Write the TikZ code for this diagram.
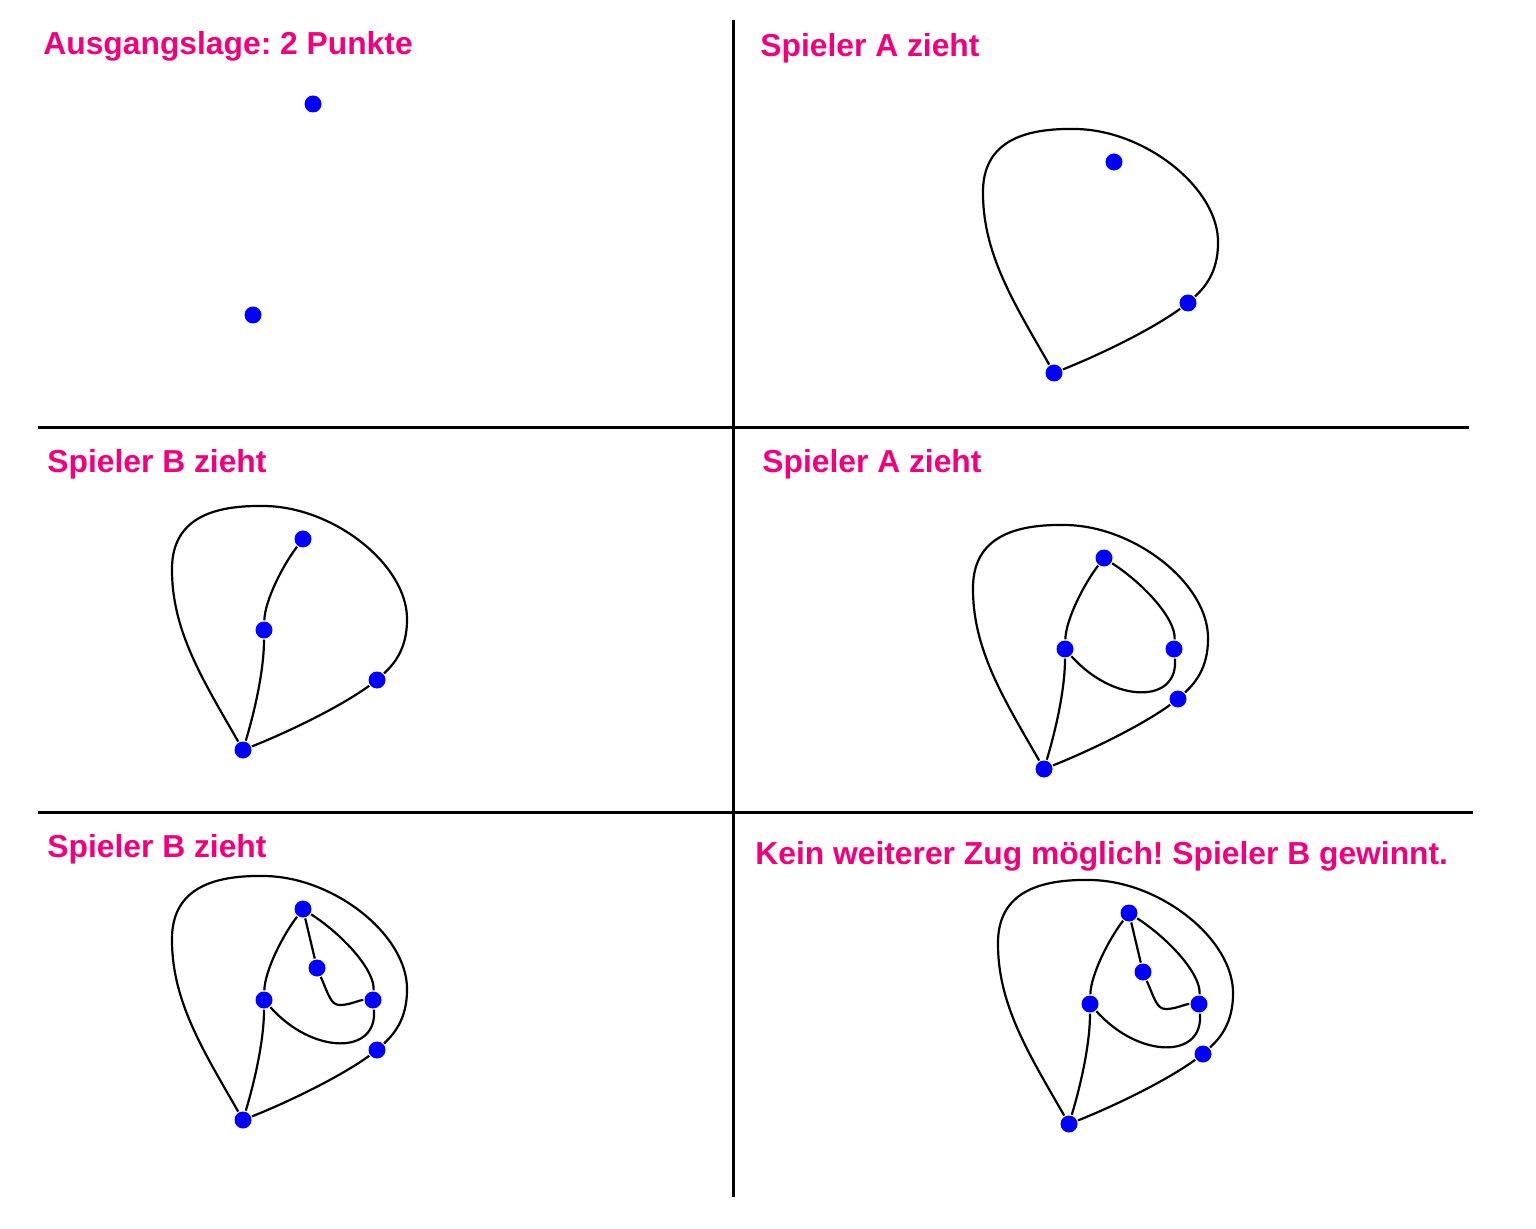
\documentclass[tikz,border=0pt]{standalone}
\usepackage{fontspec}
\setmainfont{Liberation Sans}
\frenchspacing
\definecolor{titelrot}{RGB}{240,0,125}
\definecolor{punktblau}{RGB}{0,0,255}
\tikzset{
  punkt/.style={circle, fill=punktblau, inner sep=0pt, minimum size=8.5pt, outer sep=0.6pt},
  linie/.style={line width=1.1pt},
  trenner/.style={line width=1.5pt},
  titel/.style={anchor=base west, inner sep=0pt, text=titelrot,
    font=\bfseries\fontsize{15.9}{18}\selectfont},
}

\begin{document}
\begin{tikzpicture}[x=0.5pt, y=0.5pt]
    \useasboundingbox (0,0) rectangle (1536,-1229);
    \draw[trenner] (733,-20) -- (733,-1197);
    \draw[trenner] (38,-428) -- (1469,-428);
    \draw[trenner] (38,-812) -- (1473,-812);
    \node[titel] (titel1) at (43,-55) {Ausgangslage: 2 Punkte};
    \node[titel] (titel2) at (760,-57) {Spieler A zieht};
    \node[titel] (titel3) at (47,-473) {Spieler B zieht};
    \node[titel] (titel4) at (762,-473) {Spieler A zieht};
    \node[titel] (titel5) at (47,-857) {Spieler B zieht};
    \node[titel] (titel6) at (755,-864) {Kein weiterer Zug möglich! Spieler B gewinnt.};
    \node[punkt] (o1) at (313,-104) {};
    \node[punkt] (u1) at (253,-315) {};
    \foreach \n/\x/\y in {2/1054/373, 3/243/750, 4/1044/769, 5/243/1120, 6/1069/1124} {
      \begin{scope}[shift={(\x,-\y)}]
        \node[punkt] (b\n) at (0,0) {};
        \node[punkt] (r\n) at (134,70) {};
        \node[punkt] (t\n) at (60,211) {};
        \draw[linie] (b\n) .. controls (-40,70) and (-72,120) .. (-71,183)
          .. controls (-70,225) and (-40,245) .. (20,244)
          .. controls (90,244) and (165,185) .. (164,130)
          .. controls (164,100) and (150,85) .. (r\n)
          .. controls (100,45) and (50,20) .. (b\n);
      \end{scope}
    }
    \foreach \n/\x/\y in {3/243/750, 4/1044/769, 5/243/1120, 6/1069/1124} {
      \begin{scope}[shift={(\x,-\y)}]
        \node[punkt] (m\n) at (21,120) {};
        \draw[linie] (b\n) .. controls (12,40) and (21,80) .. (m\n)
          .. controls (22,150) and (40,185) .. (t\n);
      \end{scope}
    }
    \foreach \n/\x/\y in {4/1044/769, 5/243/1120, 6/1069/1124} {
      \begin{scope}[shift={(\x,-\y)}]
        \node[punkt] (q\n) at (130,120) {};
        \draw[linie] (t\n) .. controls (100,185) and (132,150) .. (q\n)
          .. controls (135,65) and (70,65) .. (m\n);
      \end{scope}
    }
    \foreach \n/\x/\y in {5/243/1120, 6/1069/1124} {
      \begin{scope}[shift={(\x,-\y)}]
        \node[punkt] (p\n) at (74,152) {};
        \draw[linie] (t\n) -- (p\n) .. controls (86,124) and (88,115) .. (97,115)
          .. controls (107,115) and (116,120) .. (q\n);
      \end{scope}
    }
  \end{tikzpicture}
\end{document}
